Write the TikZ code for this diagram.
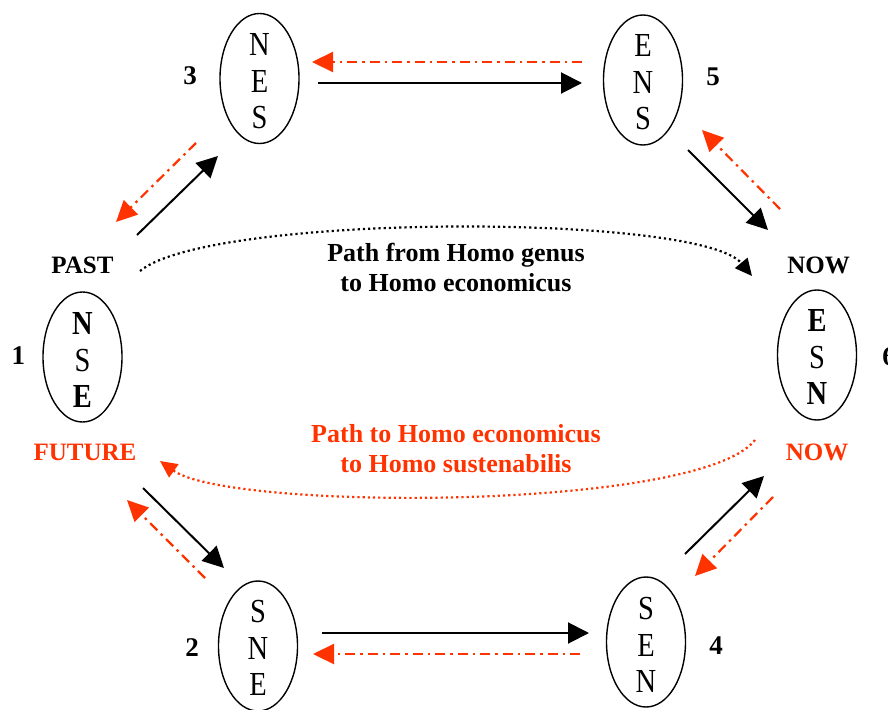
\documentclass[tikz,border=0pt]{standalone}
\usepackage{fontspec}
\usepackage{graphicx}
\setmainfont{Liberation Serif}
\usetikzlibrary{arrows.meta,shapes.geometric}
\definecolor{vermil}{RGB}{255,51,0}
\newcommand{\tallch}[1]{\scalebox{1}[1.18]{#1}}
\begin{document}
\begin{tikzpicture}[x=1pt,y=-1pt,
  ell/.style={draw, ellipse, line width=1.4pt, minimum width=79pt, minimum height=130pt, inner sep=0pt},
  letters/.style={align=center, inner sep=0pt, font=\fontsize{28.5}{36.5}\selectfont},
  num/.style={inner sep=0pt, font=\bfseries\fontsize{27}{30}\selectfont},
  era/.style={inner sep=0pt, font=\bfseries\fontsize{25}{28}\selectfont},
  pathtext/.style={align=center, inner sep=0pt, font=\bfseries\fontsize{26}{30}\selectfont},
  fwd/.style={line width=2pt, -{Triangle[length=21pt,width=21pt]}},
  back/.style={vermil, line width=2.2pt, dash pattern=on 10pt off 5pt on 2.5pt off 5pt,
    -{Triangle[length=21pt,width=20pt]}},
  trail/.style={line width=2.2pt, dash pattern=on 2.2pt off 3pt,
    -{Triangle[length=17pt,width=16pt]}}]
\useasboundingbox (0,0) rectangle (888,709);

% states
\node[ell] (s1) at (82.5,357) {};
\node[ell] (s3) at (259.5,78.5) {};
\node[ell] (s5) at (643,80) {};
\node[ell] (s6) at (817,355) {};
\node[ell] (s2) at (258,646) {};
\node[ell] (s4) at (646,642) {};

\node[letters] (t1) at (82.5,360) {\tallch{\bfseries N}\\\tallch{S}\\\tallch{\bfseries E}};
\node[letters] (t3) at (259.5,81.5) {\tallch{N}\\\tallch{E}\\\tallch{S}};
\node[letters] (t5) at (643,82.5) {\tallch{E}\\\tallch{N}\\\tallch{S}};
\node[letters] (t6) at (817,357) {\tallch{\bfseries E}\\\tallch{S}\\\tallch{\bfseries N}};
\node[letters] (t2) at (258,648) {\tallch{S}\\\tallch{N}\\\tallch{E}};
\node[letters] (t4) at (646,645) {\tallch{S}\\\tallch{E}\\\tallch{N}};

% state numbers
\node[num] (n1) at (18.5,356) {1};
\node[num] (n2) at (192,648) {2};
\node[num] (n3) at (190,76) {3};
\node[num] (n4) at (716,646) {4};
\node[num] (n5) at (713,77) {5};
\node[num] (n6) at (889,357) {6};

% era labels
\node[era] (past) at (82.5,265) {PAST};
\node[era, text=vermil] (future) at (85,452) {FUTURE};
\node[era] (nowtop) at (818.5,265) {NOW};
\node[era, text=vermil] (nowbot) at (817,452) {NOW};

% path captions
\node[pathtext] (hist) at (456,268) {Path from Homo genus\\to Homo economicus};
\node[pathtext, text=vermil] (sust) at (456,449) {Path to Homo economicus\\to Homo sustenabilis};

% arrow end points
\coordinate (a13s) at (137,235);  \coordinate (a13e) at (218,156);
\coordinate (r31s) at (196,143);  \coordinate (r31e) at (116,222);
\coordinate (a35s) at (318,83);   \coordinate (a35e) at (582,83);
\coordinate (r53s) at (582,62);   \coordinate (r53e) at (312,62);
\coordinate (a56s) at (688,150);  \coordinate (a56e) at (768,230);
\coordinate (r65s) at (780,209);  \coordinate (r65e) at (702,130);
\coordinate (a12s) at (143,488);  \coordinate (a12e) at (224,568);
\coordinate (r21s) at (205,578);  \coordinate (r21e) at (127,500);
\coordinate (a24s) at (322,633);  \coordinate (a24e) at (589,633);
\coordinate (r42s) at (580,654);  \coordinate (r42e) at (313,654);
\coordinate (a46s) at (685,554);  \coordinate (a46e) at (764,476);
\coordinate (r64s) at (773,497);  \coordinate (r64e) at (695,576);
\coordinate (hs) at (140,271);    \coordinate (he) at (752,276);
\coordinate (fs) at (755,440);    \coordinate (fe) at (160,461);

% forward steps
\draw[fwd] (a13s) -- (a13e);
\draw[fwd] (a35s) -- (a35e);
\draw[fwd] (a56s) -- (a56e);
\draw[fwd] (a12s) -- (a12e);
\draw[fwd] (a24s) -- (a24e);
\draw[fwd] (a46s) -- (a46e);

% backward steps
\draw[back] (r31s) -- (r31e);
\draw[back] (r53s) -- (r53e);
\draw[back] (r65s) -- (r65e);
\draw[back] (r21s) -- (r21e);
\draw[back] (r42s) -- (r42e);
\draw[back] (r64s) -- (r64e);

% long-run trajectories
\draw[trail] (hs) .. controls (210,213) and (700,213) .. (he);
\draw[trail, vermil] (fs) .. controls (700,511) and (230,511) .. (fe);
\end{tikzpicture}
\end{document}
